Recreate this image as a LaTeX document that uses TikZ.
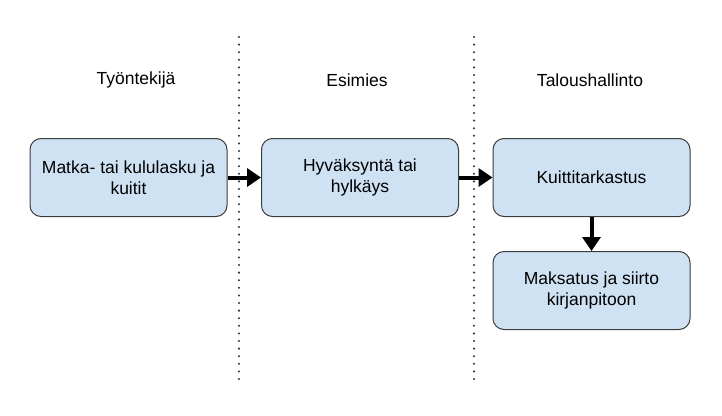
\documentclass[tikz,border=0pt]{standalone}
\usepackage{fontspec}
\setmainfont{Liberation Sans}
\usetikzlibrary{arrows.meta}
\definecolor{boxfill}{HTML}{CFE2F3}
\definecolor{boxline}{HTML}{3C3C3C}
\begin{document}
\begin{tikzpicture}[x=1pt,y=-1pt,
  procbox/.style={draw=boxline,line width=1pt,fill=boxfill,rounded corners=11pt,
    minimum width=197pt,minimum height=78pt,align=center,inner sep=4pt,
    font=\fontsize{17.5}{21}\selectfont},
  header/.style={font=\fontsize{17.5}{21}\selectfont},
  lane/.style={line width=2.3pt,dash pattern=on 0pt off 7.6pt,line cap=round,black!80},
  flow/.style={line width=4pt,-{Triangle[length=14pt,width=18pt]}}]
\useasboundingbox (0,0) rectangle (722,415);
\coordinate (l1t) at (239,37);
\coordinate (l1b) at (239,380);
\coordinate (l2t) at (474,37);
\coordinate (l2b) at (474,380);
\draw[lane] (l1t) -- (l1b);
\draw[lane] (l2t) -- (l2b);
\node[header] (h1) at (136,80) {Työntekijä};
\node[header] (h2) at (357,80) {Esimies};
\node[header] (h3) at (590,80) {Taloushallinto};
\node[procbox] (b1) at (128.5,177.5) {Matka- tai kululasku ja\\kuitit};
\node[procbox] (b2) at (360,177.5) {Hyväksyntä tai\\hylkäys};
\node[procbox] (b3) at (591.5,177.5) {Kuittitarkastus};
\node[procbox] (b4) at (591.5,290.5) {Maksatus ja siirto\\kirjanpitoon};
\draw[flow] (b1) -- (b2);
\draw[flow] (b2) -- (b3);
\draw[flow] (b3) -- (b4);
\end{tikzpicture}
\end{document}
